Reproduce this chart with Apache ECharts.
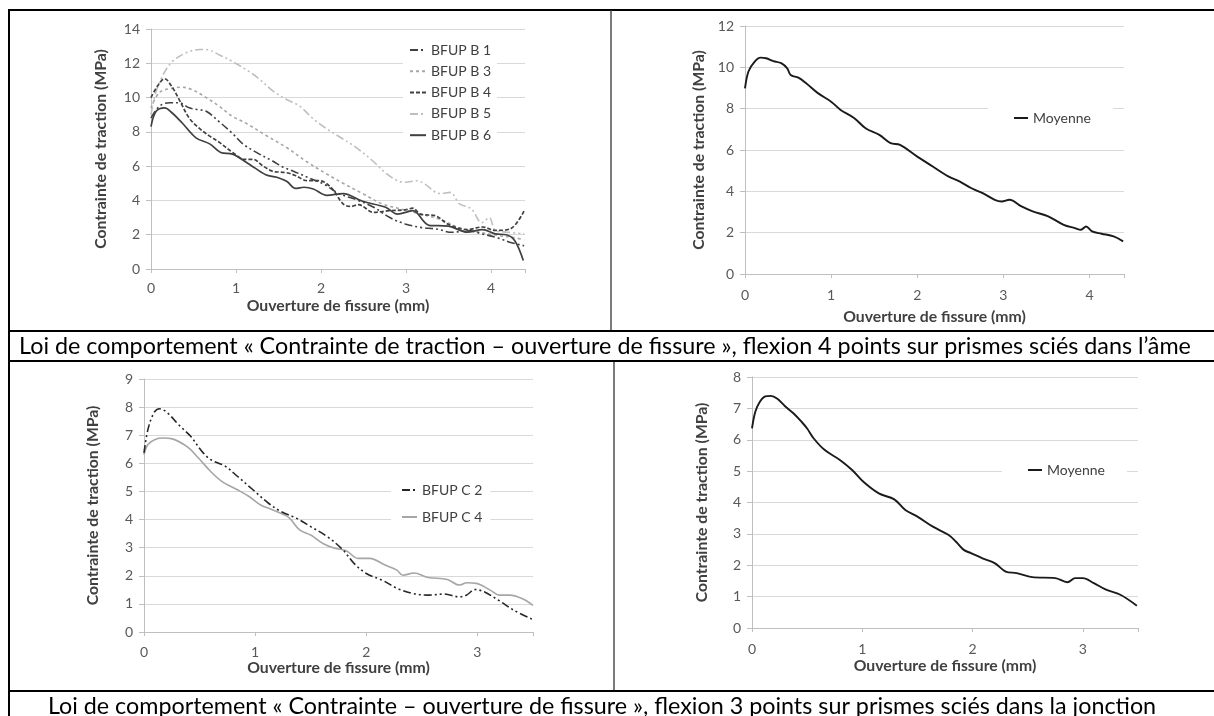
<!DOCTYPE html>
<html><head><meta charset="utf-8">
<script src="https://cdn.jsdelivr.net/npm/echarts@6/dist/echarts.min.js"></script>
<style>html,body{margin:0;padding:0;background:#fff}#c{width:1214px;height:716px}</style>
</head><body><div id="c"></div>
<script>
// ---------- data ----------
const xTitle = 'Ouverture de fissure (mm)';
const yTitle = 'Contrainte de traction (MPa)';
const caption1 = 'Loi de comportement « Contrainte de traction – ouverture de fissure », flexion 4 points sur prismes sciés dans l’âme';
const caption2 = 'Loi de comportement « Contrainte – ouverture de fissure », flexion 3 points sur prismes sciés dans la jonction';

const xRange1 = [0, 4.4], yRange1 = [0, 14], yStep1 = 2;
const xRange2 = [0, 4.4], yRange2 = [0, 12], yStep2 = 2;
const xRange3 = [0, 3.5], yRange3 = [0, 9], yStep3 = 1;
const xRange4 = [0, 3.5], yRange4 = [0, 8], yStep4 = 1;

const namesB = ['BFUP B 1', 'BFUP B 3', 'BFUP B 4', 'BFUP B 5', 'BFUP B 6'];
const namesC = ['BFUP C 2', 'BFUP C 4'];
const nameMoy = 'Moyenne';

const b1 = [[0,8.8],[0.1,9.5],[0.22,9.7],[0.33,9.7],[0.45,9.4],[0.55,9.3],[0.65,9.2],[0.8,8.6],[0.96,7.9],[1.08,7.3],[1.24,6.8],[1.43,6.3],[1.55,5.95],[1.7,5.65],[1.89,5.25],[2.03,4.96],[2.21,4.4],[2.44,4.0],[2.62,3.6],[2.81,3.0],[2.99,2.63],[3.17,2.43],[3.36,2.33],[3.54,2.14],[3.72,2.24],[3.9,2.04],[4.09,1.8],[4.23,1.55],[4.39,1.36]];
const b3 = [[0,9.4],[0.1,10.3],[0.25,10.55],[0.37,10.6],[0.49,10.45],[0.65,10.0],[0.8,9.5],[0.96,8.9],[1.12,8.5],[1.35,7.8],[1.59,7.1],[1.82,6.3],[2.03,5.65],[2.26,5.0],[2.49,4.4],[2.72,3.8],[2.94,3.5],[3.17,3.2],[3.4,2.9],[3.63,2.4],[3.86,2.15],[4.09,1.95],[4.25,1.85],[4.39,1.7]];
const b4 = [[0,10.0],[0.08,10.7],[0.16,11.1],[0.25,10.6],[0.33,9.9],[0.45,8.8],[0.57,8.2],[0.69,7.75],[0.8,7.4],[0.96,6.8],[1.1,6.4],[1.2,6.4],[1.32,6.0],[1.43,5.7],[1.52,5.65],[1.61,5.6],[1.7,5.45],[1.84,5.15],[1.98,5.15],[2.12,4.75],[2.26,3.8],[2.35,3.65],[2.44,3.75],[2.62,3.3],[2.8,3.4],[2.99,3.45],[3.08,3.55],[3.17,3.2],[3.35,3.1],[3.5,2.6],[3.72,2.3],[3.9,2.45],[4.05,2.25],[4.23,2.35],[4.39,3.4]];
const b5 = [[0,9.0],[0.05,10.2],[0.14,11.3],[0.25,12.1],[0.41,12.6],[0.57,12.8],[0.65,12.8],[0.8,12.5],[0.96,12.1],[1.16,11.5],[1.27,11.1],[1.43,10.4],[1.59,9.9],[1.75,9.5],[1.9,8.8],[2.06,8.2],[2.22,7.7],[2.41,7.1],[2.61,6.3],[2.76,5.6],[2.9,5.15],[2.99,5.06],[3.13,5.15],[3.22,4.96],[3.4,4.4],[3.52,4.47],[3.63,3.8],[3.77,3.5],[3.89,2.7],[3.98,3.0],[4.05,2.25],[4.18,2.15],[4.39,2.05]];
const b6 = [[0,8.3],[0.06,9.2],[0.16,9.4],[0.25,9.1],[0.37,8.5],[0.53,7.65],[0.69,7.3],[0.82,6.8],[0.96,6.7],[1.16,6.1],[1.35,5.5],[1.48,5.35],[1.6,5.1],[1.7,4.7],[1.8,4.77],[1.91,4.67],[2.07,4.3],[2.26,4.4],[2.49,3.95],[2.76,3.6],[2.9,3.2],[3.08,3.4],[3.27,2.55],[3.5,2.5],[3.72,2.15],[3.9,2.3],[4.05,2.05],[4.18,2.0],[4.28,1.65],[4.38,0.5]];

const moyB = [[0,8.98],[0.04,9.8],[0.11,10.27],[0.18,10.47],[0.245,10.44],[0.33,10.3],[0.42,10.2],[0.49,9.95],[0.53,9.63],[0.62,9.5],[0.71,9.23],[0.85,8.74],[1.0,8.34],[1.11,7.94],[1.27,7.54],[1.4,7.05],[1.56,6.73],[1.69,6.33],[1.8,6.25],[2.0,5.68],[2.18,5.2],[2.36,4.72],[2.49,4.48],[2.63,4.15],[2.76,3.91],[2.9,3.59],[2.98,3.51],[3.07,3.59],[3.21,3.27],[3.34,3.03],[3.52,2.79],[3.7,2.38],[3.83,2.22],[3.9,2.14],[3.96,2.3],[4.03,2.06],[4.14,1.95],[4.28,1.82],[4.39,1.58]];

const c2 = [[0,6.37],[0.035,7.2],[0.09,7.8],[0.14,7.94],[0.21,7.8],[0.31,7.38],[0.42,6.96],[0.52,6.43],[0.6,6.13],[0.73,5.9],[0.84,5.54],[0.98,5.06],[1.12,4.58],[1.23,4.29],[1.37,4.05],[1.5,3.75],[1.65,3.39],[1.79,2.92],[1.89,2.44],[2.0,2.08],[2.14,1.85],[2.28,1.55],[2.42,1.37],[2.56,1.31],[2.7,1.35],[2.84,1.25],[2.9,1.31],[2.98,1.51],[3.06,1.43],[3.19,1.13],[3.33,0.77],[3.5,0.44]];
const c4 = [[0,6.3],[0.035,6.67],[0.1,6.85],[0.175,6.9],[0.245,6.88],[0.385,6.6],[0.49,6.19],[0.6,5.71],[0.7,5.36],[0.84,5.06],[0.945,4.82],[1.05,4.52],[1.155,4.35],[1.26,4.17],[1.31,4.05],[1.4,3.63],[1.5,3.45],[1.61,3.15],[1.715,2.98],[1.82,2.89],[1.925,2.62],[2.03,2.62],[2.17,2.38],[2.275,2.2],[2.33,2.02],[2.43,2.1],[2.555,1.94],[2.73,1.87],[2.835,1.67],[2.905,1.75],[2.99,1.73],[3.115,1.49],[3.2,1.31],[3.29,1.31],[3.4,1.19],[3.5,0.95]];

const moyC = [[0,6.36],[0.03,6.89],[0.07,7.2],[0.12,7.38],[0.17,7.4],[0.23,7.31],[0.3,7.07],[0.38,6.83],[0.45,6.57],[0.5,6.36],[0.56,6.04],[0.66,5.67],[0.8,5.35],[0.91,5.03],[1.01,4.66],[1.15,4.29],[1.29,4.1],[1.39,3.76],[1.5,3.55],[1.64,3.23],[1.78,2.97],[1.85,2.75],[1.92,2.49],[1.99,2.38],[2.09,2.22],[2.2,2.07],[2.3,1.8],[2.4,1.75],[2.54,1.62],[2.75,1.59],[2.86,1.46],[2.93,1.59],[3.0,1.59],[3.1,1.43],[3.21,1.22],[3.34,1.06],[3.49,0.71]];

// ---------- rendering ----------
const FAM = 'Lato, "Open Sans", sans-serif';
const GRID = '#d9d9d9', AXIS = '#bfbfbf', LBL = '#595959', TXT = '#404040';

const cv = document.createElement('canvas').getContext('2d');
function fit(text, weight, target) {
  cv.font = weight + ' 20px Lato';
  return 20 * target / cv.measureText(text).width;
}
const titleSize = Math.max(12, Math.min(18, fit(yTitle, 'bold', 200)));
const capSize = Math.max(12, Math.min(24, fit(caption1, 'normal', 1172)));
const capFont = capSize.toFixed(2) + 'px ' + FAM;

function xAxis(i, range, nameGap, margin) {
  return {
    type: 'value', gridIndex: i, min: range[0], max: range[1], interval: 1,
    name: xTitle, nameLocation: 'middle', nameGap: nameGap,
    nameTextStyle: { fontFamily: FAM, fontWeight: 'bold', fontSize: titleSize, color: TXT },
    axisLine: { onZero: false, lineStyle: { color: AXIS, width: 1 } },
    axisTick: { show: true, length: 4, lineStyle: { color: AXIS } },
    axisLabel: { margin: margin, fontFamily: FAM, fontSize: 14, color: LBL,
      formatter: v => (Math.abs(v - Math.round(v)) < 1e-9 ? String(Math.round(v)) : '') },
    splitLine: { show: false }
  };
}
function yAxis(i, range, step, nameGap) {
  return {
    type: 'value', gridIndex: i, min: range[0], max: range[1], interval: step,
    name: yTitle, nameLocation: 'middle', nameGap: nameGap,
    nameTextStyle: { fontFamily: FAM, fontWeight: 'bold', fontSize: titleSize, color: TXT },
    axisLine: { show: true, lineStyle: { color: AXIS, width: 1 } },
    axisTick: { show: true, length: 5, lineStyle: { color: AXIS } },
    axisLabel: { margin: 11, fontFamily: FAM, fontSize: 14, color: LBL },
    splitLine: { show: true, lineStyle: { color: GRID, width: 1.2 } }
  };
}
function line(name, data, i, color, type, width) {
  return {
    type: 'line', name: name, data: data, xAxisIndex: i, yAxisIndex: i,
    symbol: 'none', smooth: 0.35, color: color,
    lineStyle: { color: color, width: width || 1.5, type: type || 'solid' }
  };
}
const DDOT = [8, 3, 2, 3, 2, 3];
const legendText = { fontFamily: FAM, fontSize: 14, color: TXT };
function legend(extra) {
  return Object.assign({
    orient: 'vertical', itemWidth: 16, itemHeight: 14, backgroundColor: '#fff',
    textStyle: legendText, selectedMode: false, itemStyle: { opacity: 0, borderWidth: 0 }
  }, extra);
}

const chart = echarts.init(document.getElementById('c'), null, { renderer: 'canvas' });
chart.setOption({
  animation: false,
  backgroundColor: '#fff',
  grid: [
    { left: 151, top: 29, width: 374, height: 240 },
    { left: 745, top: 26, width: 379, height: 248 },
    { left: 144, top: 379, width: 389, height: 253 },
    { left: 752, top: 377, width: 386, height: 251 }
  ],
  xAxis: [ xAxis(0, xRange1, 29, 12), xAxis(1, xRange2, 35, 14), xAxis(2, xRange3, 26, 13), xAxis(3, xRange4, 30, 14) ],
  yAxis: [ yAxis(0, yRange1, yStep1, 42), yAxis(1, yRange2, yStep2, 38), yAxis(2, yRange3, yStep3, 43), yAxis(3, yRange4, yStep4, 42) ],
  legend: [
    legend({ left: 403, top: 41, padding: [2, 6, 2, 6], itemGap: 7.3, data: namesB }),
    legend({ left: 988, top: 106, padding: [5, 22, 5, 25], itemWidth: 14, data: [nameMoy] }),
    legend({ left: 391, top: 481, padding: [2, 8, 2, 10], itemGap: 13, itemWidth: 15, data: namesC }),
    legend({ left: 1002, top: 461, padding: [2, 22, 2, 25], itemWidth: 14, data: [nameMoy] })
  ],
  series: [
    line(namesB[3], b5, 0, '#bfbfbf', DDOT, 1.6),
    line(namesB[1], b3, 0, '#a6a6a6', [3, 3], 1.6),
    line(namesB[0], b1, 0, '#404040', DDOT, 1.6),
    line(namesB[2], b4, 0, '#404040', [4, 2], 1.7),
    line(namesB[4], b6, 0, '#404040', 'solid', 1.7),
    line(nameMoy, moyB, 1, '#1a1a1a', 'solid', 1.9),
    line(namesC[1], c4, 2, '#a6a6a6', 'solid', 1.6),
    line(namesC[0], c2, 2, '#262626', DDOT, 1.6),
    line(nameMoy, moyC, 3, '#1a1a1a', 'solid', 1.9)
  ],
  graphic: [
    { type: 'line', shape: { x1: 8, y1: 10, x2: 1214, y2: 10 }, style: { stroke: '#000', lineWidth: 2 } },
    { type: 'line', shape: { x1: 9, y1: 9, x2: 9, y2: 716 }, style: { stroke: '#000', lineWidth: 2 } },
    { type: 'line', shape: { x1: 611, y1: 10, x2: 611, y2: 331 }, style: { stroke: '#333', lineWidth: 1.3 } },
    { type: 'line', shape: { x1: 614, y1: 361, x2: 614, y2: 691 }, style: { stroke: '#333', lineWidth: 1.3 } },
    { type: 'line', shape: { x1: 8, y1: 331, x2: 1214, y2: 331 }, style: { stroke: '#000', lineWidth: 2 } },
    { type: 'line', shape: { x1: 8, y1: 361, x2: 1214, y2: 361 }, style: { stroke: '#000', lineWidth: 2 } },
    { type: 'line', shape: { x1: 8, y1: 691, x2: 1214, y2: 691 }, style: { stroke: '#000', lineWidth: 2 } },
    { type: 'text', x: 605, y: 346, style: { text: caption1, font: capFont, fill: '#000', align: 'center', verticalAlign: 'middle' } },
    { type: 'text', x: 602, y: 706, style: { text: caption2, font: capFont, fill: '#000', align: 'center', verticalAlign: 'middle' } }
  ]
});
</script>
</body></html>
